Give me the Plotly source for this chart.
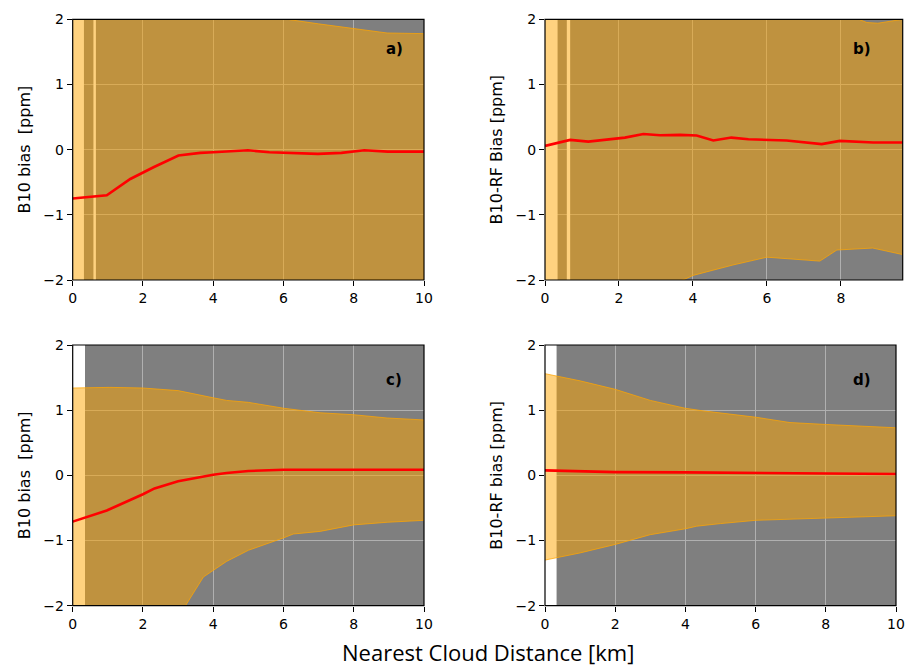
import plotly.graph_objects as go
from plotly.subplots import make_subplots

# ---------------- data ----------------
panel_labels = ["a)", "b)", "c)", "d)"]
y_titles = ["B10 bias  [ppm]", "B10-RF Bias [ppm]", "B10 bias  [ppm]", "B10-RF bias [ppm]"]
x_title = "Nearest Cloud Distance [km]"
x_max = [10, 9.67, 10, 10]
y_lim = [-2, 2]
x_ticks = [0, 2, 4, 6, 8, 10]
y_ticks = [-2, -1, 0, 1, 2]

# empty (no-sample) distance intervals inside the sample cloud
gaps_a = [[0, 0.32], [0.59, 0.66]]
gaps_b = [[0, 0.34], [0.59, 0.68]]
gaps_c = [[0, 0.35]]
gaps_d = [[0, 0.33]]

# mean bias (red line)
mean_x_a = [0, 0.97, 1.64, 2.3, 3.01, 3.63, 4.0, 4.99, 5.6, 6.98, 7.65, 8.3, 8.97, 10]
mean_y_a = [-0.75, -0.70, -0.45, -0.27, -0.09, -0.05, -0.04, -0.01, -0.04, -0.065, -0.05, -0.01, -0.03, -0.03]
mean_x_b = [0, 0.68, 1.17, 2.16, 2.66, 3.11, 3.65, 4.1, 4.55, 5.04, 5.5, 6.53, 7.48, 7.97, 8.87, 9.67]
mean_y_b = [0.058, 0.15, 0.124, 0.185, 0.24, 0.22, 0.226, 0.216, 0.14, 0.185, 0.16, 0.14, 0.085, 0.135, 0.11, 0.11]
mean_x_c = [0, 0.97, 2.0, 2.33, 3.0, 4.0, 4.38, 5.0, 6.0, 8.0, 10]
mean_y_c = [-0.71, -0.54, -0.29, -0.2, -0.09, 0.01, 0.036, 0.067, 0.087, 0.092, 0.087]
mean_x_d = [0, 2.0, 4.0, 6.0, 8.0, 10]
mean_y_d = [0.077, 0.05, 0.046, 0.036, 0.026, 0.02]

# spread band (upper / lower edges)
up_x_a = [0, 2, 4, 6.1, 7, 8, 8.95, 10]
up_y_a = [2.3, 2.3, 2.2, 2.0, 1.93, 1.86, 1.79, 1.78]
lo_x_a = [0, 2, 4, 6, 7, 8, 9, 10]
lo_y_a = [-2.4, -2.35, -2.25, -2.1, -2.04, -2.0, -2.0, -2.005]

up_x_b = [0, 4, 8.4, 8.7, 9.0, 9.3, 9.67]
up_y_b = [2.3, 2.3, 2.02, 1.95, 1.94, 1.97, 2.0]
lo_x_b = [0, 2, 3.73, 4.0, 5.08, 6.0, 7.43, 7.89, 8.86, 9.67]
lo_y_b = [-2.6, -2.3, -2.0, -1.93, -1.77, -1.65, -1.71, -1.54, -1.51, -1.61]

up_x_c = [0, 1.06, 2.0, 3.0, 4.0, 4.38, 5.0, 6.0, 7.04, 8.0, 8.95, 10]
up_y_c = [1.34, 1.35, 1.34, 1.30, 1.19, 1.15, 1.12, 1.03, 0.96, 0.93, 0.88, 0.85]
lo_x_c = [0, 2.0, 3.2, 3.72, 4.38, 5.0, 6.0, 6.28, 7.04, 8.0, 8.95, 10]
lo_y_c = [-3.5, -2.6, -2.01, -1.56, -1.32, -1.15, -0.96, -0.9, -0.86, -0.76, -0.72, -0.69]

up_x_d = [0, 1.0, 2.0, 3.0, 3.99, 4.5, 6.03, 6.98, 8.02, 10]
up_y_d = [1.56, 1.45, 1.32, 1.15, 1.03, 0.99, 0.89, 0.81, 0.78, 0.73]
lo_x_d = [0, 1.0, 2.0, 3.0, 4.0, 4.32, 5.0, 6.0, 8.0, 10]
lo_y_d = [-1.30, -1.19, -1.06, -0.91, -0.82, -0.78, -0.74, -0.69, -0.66, -0.62]

# panel-label positions in data units
label_pos = [[9.15, 1.54], [8.57, 1.55], [9.15, 1.46], [9.03, 1.46]]

panels = [
    (gaps_a, mean_x_a, mean_y_a, up_x_a, up_y_a, lo_x_a, lo_y_a),
    (gaps_b, mean_x_b, mean_y_b, up_x_b, up_y_b, lo_x_b, lo_y_b),
    (gaps_c, mean_x_c, mean_y_c, up_x_c, up_y_c, lo_x_c, lo_y_c),
    (gaps_d, mean_x_d, mean_y_d, up_x_d, up_y_d, lo_x_d, lo_y_d),
]

# ---------------- figure ----------------
W, H = 906, 667
fig = make_subplots(rows=2, cols=2)

GRAY = "#7f7f7f"
BAND_FILL = "rgba(255,165,0,0.5)"
BAND_EDGE = "rgba(255,165,0,0.75)"

x_domains = [[72.7 / W, 424 / W], [545 / W, 902.7 / W], [72.7 / W, 424 / W], [545 / W, 896 / W]]
y_domains = [[1 - 280 / H, 1 - 19.3 / H], [1 - 280 / H, 1 - 19.3 / H],
             [1 - 605.7 / H, 1 - 345 / H], [1 - 605.7 / H, 1 - 345 / H]]

for i, (gaps, mx, my, ux, uy, lx, ly) in enumerate(panels):
    r, c = i // 2 + 1, i % 2 + 1
    # white gaps in the sample cloud
    for g in gaps:
        fig.add_trace(go.Scatter(
            x=[g[0], g[1], g[1], g[0], g[0]],
            y=[y_lim[0] - 0.5, y_lim[0] - 0.5, y_lim[1] + 0.5, y_lim[1] + 0.5, y_lim[0] - 0.5],
            fill="toself", fillcolor="white", mode="lines", line=dict(width=0, color="white"),
            hoverinfo="skip", showlegend=False), row=r, col=c)
    # spread band
    fig.add_trace(go.Scatter(
        x=list(ux) + list(reversed(lx)), y=list(uy) + list(reversed(ly)),
        fill="toself", fillcolor=BAND_FILL, mode="lines",
        line=dict(width=1, color=BAND_EDGE), hoverinfo="skip", showlegend=False), row=r, col=c)
    # mean line
    fig.add_trace(go.Scatter(x=mx, y=my, mode="lines", line=dict(color="red", width=2.6),
                             showlegend=False), row=r, col=c)

axis_font = dict(family="DejaVu Sans", size=14, color="black")
for i in range(4):
    r, c = i // 2 + 1, i % 2 + 1
    fig.update_xaxes(row=r, col=c, domain=x_domains[i], range=[0, x_max[i]],
                     tickvals=[t for t in x_ticks if t <= x_max[i]],
                     ticks="outside", ticklen=5, tickwidth=1, tickcolor="black",
                     showline=False, showgrid=True, gridcolor="#b0b0b0", gridwidth=1,
                     zeroline=False, tickfont=axis_font, fixedrange=True, automargin=False)
    fig.update_yaxes(row=r, col=c, domain=y_domains[i], range=y_lim, tickvals=y_ticks,
                     ticks="outside", ticklen=5, tickwidth=1, tickcolor="black",
                     showline=False, showgrid=True, gridcolor="#b0b0b0", gridwidth=1,
                     zeroline=False, tickfont=axis_font, automargin=False,
                     title=dict(text=y_titles[i], font=dict(family="DejaVu Sans", size=16, color="black"),
                                standoff=8),
                     fixedrange=True)
    xr = "x" if i == 0 else f"x{i+1}"
    yr = "y" if i == 0 else f"y{i+1}"
    fig.add_shape(type="rect", xref=f"{xr} domain", yref=f"{yr} domain", x0=0, x1=1, y0=0, y1=1,
                  line=dict(color="black", width=1.2), layer="above")
    fig.add_annotation(x=label_pos[i][0], y=label_pos[i][1], xref=xr, yref=yr, text=f"<b>{panel_labels[i]}</b>",
                       showarrow=False, font=dict(family="DejaVu Sans", size=15, color="black"))

fig.add_annotation(x=488 / W, y=1 - 652 / H, xref="paper", yref="paper", text=x_title, showarrow=False,
                   yanchor="middle", font=dict(family="Open Sans", size=22, color="black"))

fig.update_layout(width=W, height=H, autosize=False, margin=dict(l=0, r=0, t=0, b=0),
                  plot_bgcolor=GRAY, paper_bgcolor="white")

fig.write_html("out.html", config={"displayModeBar": False},
               post_script="document.body.style.margin='0';document.body.style.overflow='hidden';")
